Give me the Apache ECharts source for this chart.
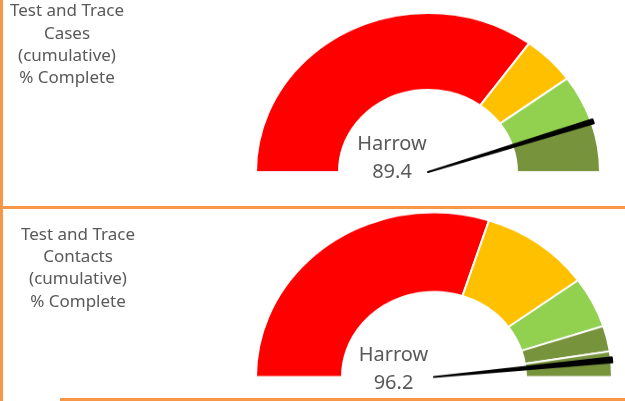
<!DOCTYPE html>
<html>
<head>
<meta charset="utf-8">
<script src="https://cdn.jsdelivr.net/npm/echarts@6/dist/echarts.min.js"></script>
<style>
  html, body { margin: 0; padding: 0; background: #fff; }
  #wrap { position: relative; width: 625px; height: 401px; overflow: hidden; }
  #gauges { position: absolute; left: 0; top: 0; width: 625px; height: 434px;
            transform: scaleY(0.925); transform-origin: 0 0; }
  #overlay { position: absolute; left: 0; top: 0; width: 625px; height: 401px; }
</style>
</head>
<body>
<div id="wrap">
  <div id="gauges"></div>
  <div id="overlay"></div>
</div>
<script>
// ---- data ----
const areaNames = ['Harrow', 'Harrow'];
const gaugeValues = [89.4, 96.2];
const bandEndsTop = [70, 80, 90, 100];
const bandEndsBottom = [60, 80, 90, 95, 100];
const panelTitleTop = ['Test and Trace', 'Cases', '(cumulative)', '% Complete'];
const panelTitleBottom = ['Test and Trace', 'Contacts', '(cumulative)', '% Complete'];

// ---- styles ----
const K = 0.925; // vertical squash of the gauge layer
const bandColorsTop = ['#FF0000', '#FFC000', '#92D050', '#77933C'];
const bandColorsBottom = ['#FF0000', '#FFC000', '#92D050', '#77933C', '#77933C'];
const textColor = '#595959';
const orange = '#F79646';
const FONT = '"Noto Sans", "Open Sans", sans-serif';

function ringData(ends, colors) {
  const data = [];
  let prev = 0;
  ends.forEach((e, i) => {
    data.push({ value: e - prev, itemStyle: { color: colors[i], borderColor: '#fff', borderWidth: 2 } });
    prev = e;
  });
  // hidden lower half
  data.push({ value: 100, itemStyle: { color: 'transparent', borderWidth: 0 } });
  return data;
}
function needleData(v, w) {
  return [
    { value: v, itemStyle: { color: 'transparent', borderWidth: 0 } },
    { value: w, itemStyle: { color: '#000', borderColor: '#000', borderWidth: 2, borderJoin: 'round' } },
    { value: 200 - v - w, itemStyle: { color: 'transparent', borderWidth: 0 } }
  ];
}
const common = { type: 'pie', startAngle: 180, clockwise: true, silent: true,
  label: { show: false }, labelLine: { show: false }, emphasis: { disabled: true },
  animation: false, avoidLabelOverlap: false };

const g = echarts.init(document.getElementById('gauges'), null, { renderer: 'canvas' });
g.setOption({
  animation: false,
  series: [
    Object.assign({}, common, { center: [428, 172 / K], radius: [89, 172], data: ringData(bandEndsTop, bandColorsTop) }),
    Object.assign({}, common, { center: [428, 172 / K], radius: [0, 174], data: needleData(gaugeValues[0], 0.8) }),
    Object.assign({}, common, { center: [434, 377 / K], radius: [92, 178], data: ringData(bandEndsBottom, bandColorsBottom) }),
    Object.assign({}, common, { center: [434, 377 / K], radius: [0, 179], data: needleData(gaugeValues[1], 1.0) })
  ]
});

// ---- overlay texts and panel borders ----
const o = echarts.init(document.getElementById('overlay'), null, { renderer: 'canvas' });
const els = [];
function txt(str, x, y, size) {
  els.push({ type: 'text', x: x, y: y, silent: true,
    style: { text: str, fill: textColor, font: size + 'px ' + FONT, align: 'center', verticalAlign: 'middle' } });
}
panelTitleTop.forEach((s, i) => txt(s, 67, 11.5 + i * 22.3, 17));
panelTitleBottom.forEach((s, i) => txt(s, 78, 235 + i * 22.3, 17));
txt(areaNames[0], 392, 144, 20);
txt(String(gaugeValues[0]), 392, 172, 20);
txt(areaNames[1], 393.5, 355.5, 20);
txt(String(gaugeValues[1]), 393.5, 383, 20);

els.push({ type: 'rect', shape: { x: 0, y: 0, width: 3, height: 401 }, style: { fill: orange }, silent: true });
els.push({ type: 'rect', shape: { x: 0, y: 206, width: 625, height: 3 }, style: { fill: orange }, silent: true });
els.push({ type: 'rect', shape: { x: 60, y: 398, width: 565, height: 3 }, style: { fill: orange }, silent: true });

o.setOption({ animation: false, graphic: { elements: els } });
</script>
</body>
</html>
